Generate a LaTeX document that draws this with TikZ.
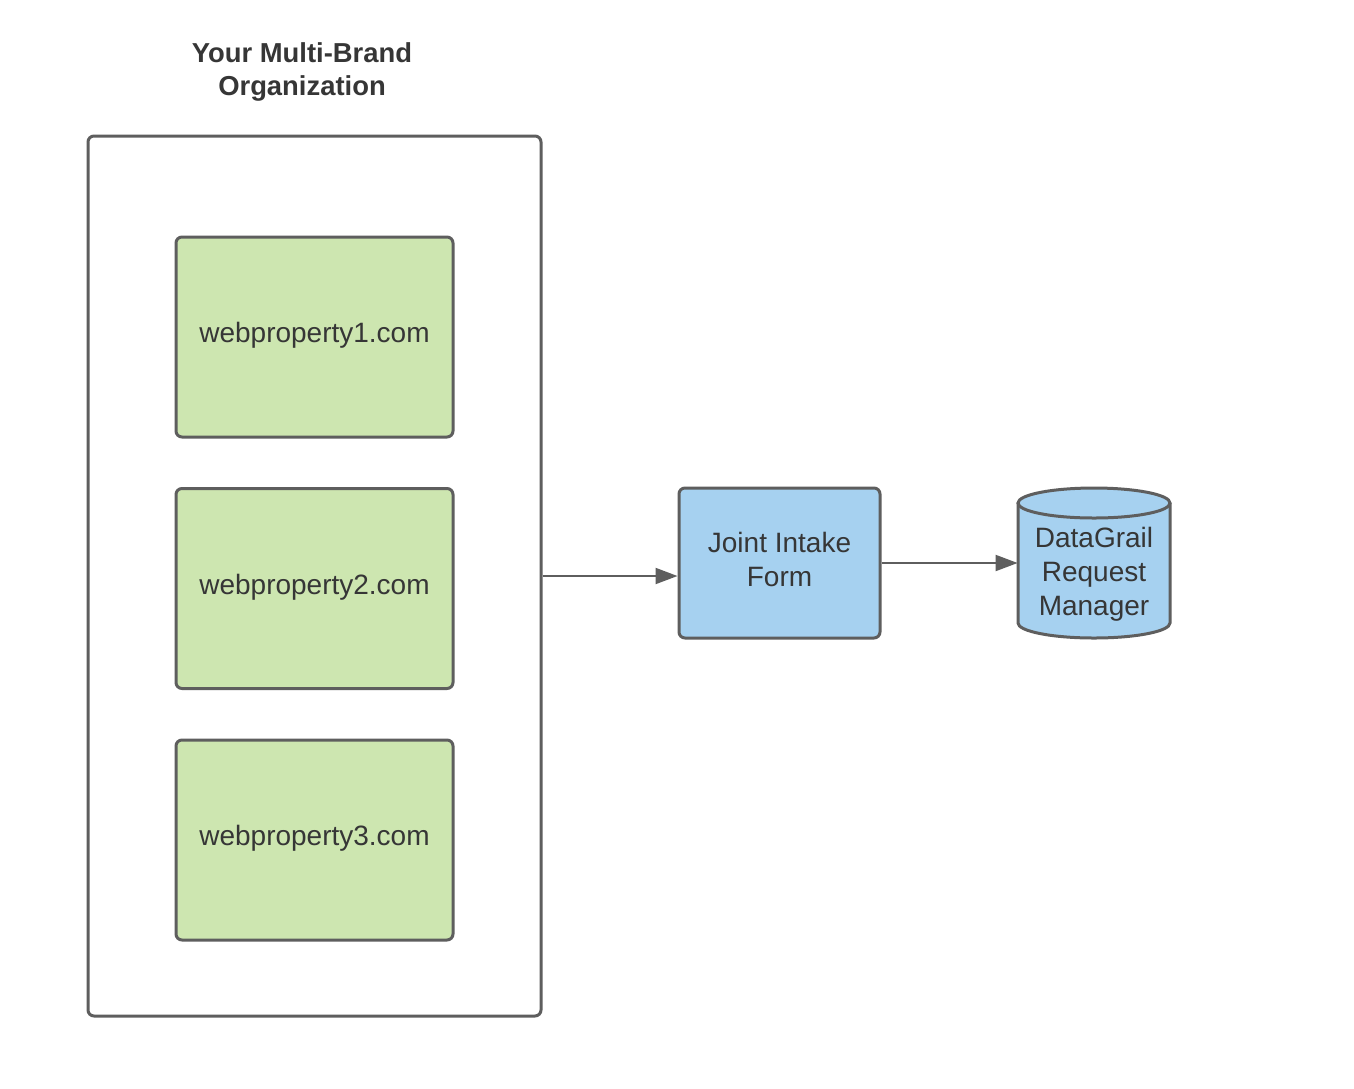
\documentclass[tikz,border=0pt]{standalone}
\usepackage{fontspec}
\setmainfont{Liberation Sans}
\usetikzlibrary{arrows.meta}
\definecolor{edge}{HTML}{5E5E5E}
\definecolor{txt}{HTML}{363636}
\definecolor{greenfill}{HTML}{CDE6B0}
\definecolor{bluefill}{HTML}{A6D1F0}
\tikzset{
  box/.style={draw=edge, line width=1.5pt, rounded corners=3pt, text=txt, font=\fontsize{14}{17}\selectfont, align=center, inner sep=0pt},
  greenbox/.style={box, fill=greenfill, minimum width=138.5pt, minimum height=100pt, text depth=4.5pt},
  conn/.style={draw=edge, line width=1pt, -{Triangle[length=11pt,width=8pt]}},
}
\begin{document}
\begin{tikzpicture}[x=0.5pt,y=-0.5pt]
\useasboundingbox[fill=white] (0,0) rectangle (1354,1088);
\node[text=txt, font=\bfseries\fontsize{13.7}{16.5}\selectfont, align=center] (title) at (302,72) {Your Multi-Brand\\Organization};
\node[box, minimum width=226.5pt, minimum height=440pt] (org) at (314.5,576) {};
\node[greenbox] (w1) at (314.5,337) {webproperty1.com};
\node[greenbox] (w2) at (314.5,588.5) {webproperty2.com};
\node[greenbox] (w3) at (314.5,840) {webproperty3.com};
\node[box, fill=bluefill, minimum width=100.5pt, minimum height=75pt, text depth=4pt] (jif) at (779.5,563) {Joint Intake\\Form};
% cylinder
\node[inner sep=0pt, minimum width=76pt, minimum height=75pt] (dg) at (1094,563) {};
\fill[bluefill] (1018,503) -- (1018,623) arc[start angle=180,end angle=360,x radius=38pt,y radius=7.5pt] -- (1170,503) arc[start angle=0,end angle=180,x radius=38pt,y radius=7.5pt] -- cycle;
\draw[edge, line width=1.5pt] (1018,503) -- (1018,623) arc[start angle=180,end angle=360,x radius=38pt,y radius=7.5pt] -- (1170,503);
\draw[edge, line width=1.5pt] (1094,503) ellipse[x radius=38pt,y radius=7.5pt];
\node[text=txt, font=\fontsize{14}{17}\selectfont, align=center] (dgt) at (1094,574) {DataGrail\\Request\\Manager};
% connectors
\draw[conn] (org.east |- 0,576) -- (jif.west |- 0,576);
\draw[conn] (jif.east) -- (dg.west);
\end{tikzpicture}
\end{document}
